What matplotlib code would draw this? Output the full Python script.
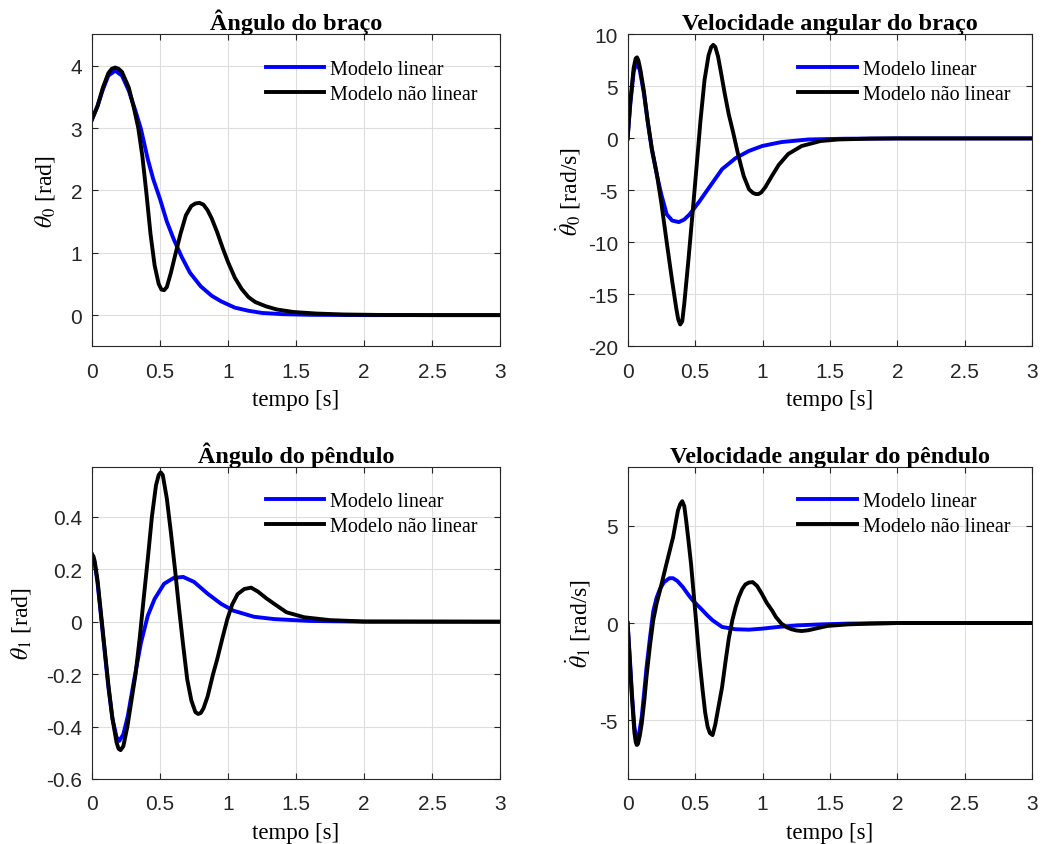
import matplotlib
matplotlib.use('Agg')
import matplotlib.pyplot as plt

# --- dados ---
# angulo do braco
t_ab_lin = [0, 0.04, 0.08, 0.12, 0.17, 0.22, 0.27, 0.32, 0.36, 0.41, 0.45, 0.50, 0.55, 0.60,
            0.66, 0.72, 0.80, 0.88, 0.95, 1.05, 1.15, 1.25, 1.40, 1.6, 2.0, 3.0]
ab_lin = [3.14, 3.35, 3.62, 3.84, 3.92, 3.84, 3.60, 3.27, 2.98, 2.50, 2.18, 1.86, 1.50, 1.22,
          0.93, 0.68, 0.46, 0.31, 0.22, 0.12, 0.07, 0.035, 0.015, 0.005, 0, 0]
t_ab_nl = [0, 0.04, 0.08, 0.12, 0.145, 0.17, 0.195, 0.22, 0.27, 0.31, 0.34, 0.37, 0.40, 0.43,
           0.46, 0.49, 0.51, 0.53, 0.55, 0.58, 0.61, 0.65, 0.69, 0.73, 0.76, 0.79, 0.82, 0.85,
           0.88, 0.92, 0.96, 1.00, 1.05, 1.10, 1.15, 1.20, 1.28, 1.36, 1.48, 1.65, 1.85, 2.1,
           2.5, 3.0]
ab_nl = [3.14, 3.35, 3.65, 3.88, 3.95, 3.97, 3.95, 3.90, 3.65, 3.30, 3.00, 2.55, 1.95, 1.30,
         0.80, 0.50, 0.41, 0.40, 0.45, 0.68, 0.95, 1.30, 1.60, 1.75, 1.79, 1.80, 1.77, 1.68,
         1.55, 1.33, 1.08, 0.85, 0.60, 0.42, 0.29, 0.21, 0.14, 0.09, 0.05, 0.025, 0.01, 0.003,
         0, 0]

# velocidade angular do braco
t_vb_lin = [0, 0.02, 0.045, 0.065, 0.09, 0.12, 0.15, 0.18, 0.215, 0.25, 0.29, 0.33, 0.38,
            0.42, 0.46, 0.53, 0.60, 0.70, 0.80, 0.90, 1.00, 1.14, 1.34, 1.6, 2.0, 3.0]
vb_lin = [0, 3.3, 6.4, 7.3, 6.6, 4.4, 1.5, -1.1, -3.4, -5.4, -7.3, -7.9, -8.05,
          -7.8, -7.3, -6.1, -4.8, -2.96, -1.9, -1.2, -0.72, -0.35, -0.1, -0.03, 0, 0]
t_vb_nl = [0, 0.02, 0.045, 0.06, 0.07, 0.08, 0.095, 0.12, 0.15, 0.18, 0.215, 0.25, 0.29, 0.33,
           0.36, 0.375, 0.39, 0.405, 0.42, 0.45, 0.48, 0.51, 0.54, 0.57, 0.60, 0.62, 0.635,
           0.65, 0.67, 0.69, 0.72, 0.75, 0.78, 0.82, 0.86, 0.90, 0.93, 0.95, 0.97, 0.99, 1.02,
           1.07, 1.12, 1.19, 1.29, 1.43, 1.56, 1.8, 2.0, 3.0]
vb_nl = [0, 3.5, 6.8, 7.7, 7.8, 7.5, 6.6, 4.6, 1.6, -1.0, -3.3, -6.2, -10.0, -13.7,
         -16.3, -17.4, -17.9, -17.6, -15.9, -11.8, -7.4, -2.9, 1.7, 5.6, 8.0, 8.8, 9.0,
         8.8, 7.9, 6.5, 4.3, 2.3, 0.7, -1.6, -3.6, -4.9, -5.25, -5.35, -5.35, -5.2, -4.7,
         -3.6, -2.55, -1.5, -0.73, -0.25, -0.1, -0.02, 0, 0]

# angulo do pendulo
t_ap_lin = [0, 0.02, 0.04, 0.06, 0.09, 0.12, 0.15, 0.18, 0.20, 0.23, 0.263, 0.31, 0.36,
            0.41, 0.46, 0.53, 0.60, 0.67, 0.75, 0.85, 0.95, 1.04, 1.19, 1.34, 1.6, 2.0, 3.0]
ap_lin = [0.257, 0.22, 0.15, 0.05, -0.10, -0.25, -0.37, -0.44, -0.455, -0.43, -0.36, -0.22, -0.08,
          0.023, 0.087, 0.145, 0.167, 0.171, 0.152, 0.107, 0.068, 0.042, 0.019, 0.01, 0.003, 0, 0]
t_ap_nl = [0, 0.01, 0.02, 0.04, 0.06, 0.09, 0.12, 0.15, 0.18, 0.195, 0.21, 0.23, 0.26, 0.29,
           0.32, 0.35, 0.38, 0.41, 0.44, 0.47, 0.49, 0.505, 0.52, 0.55, 0.58, 0.61, 0.64, 0.67,
           0.70, 0.73, 0.76, 0.78, 0.80, 0.82, 0.85, 0.89, 0.92, 0.96, 0.995, 1.03, 1.07, 1.12,
           1.17, 1.22, 1.28, 1.34, 1.43, 1.56, 1.75, 2.0, 3.0]
ap_nl = [0.257, 0.25, 0.23, 0.16, 0.06, -0.09, -0.24, -0.37, -0.46, -0.485, -0.49, -0.475,
         -0.40, -0.30, -0.20, -0.065, 0.09, 0.24, 0.40, 0.52, 0.56, 0.57, 0.56, 0.47, 0.34,
         0.20, 0.05, -0.09, -0.22, -0.30, -0.345, -0.352, -0.348, -0.33, -0.285, -0.20, -0.144,
         -0.06, 0.01, 0.065, 0.105, 0.125, 0.13, 0.115, 0.09, 0.068, 0.036, 0.017, 0.006,
         0.001, 0]

# velocidade angular do pendulo
t_vp_lin = [0, 0.015, 0.032, 0.05, 0.065, 0.085, 0.105, 0.125, 0.14, 0.165, 0.19, 0.215, 0.24,
            0.27, 0.31, 0.337, 0.37, 0.41, 0.45, 0.483, 0.52, 0.556, 0.59, 0.63, 0.70, 0.80,
            0.90, 0.995, 1.117, 1.26, 1.43, 1.63, 2.0, 3.0]
vp_lin = [0, -1.6, -3.6, -5.3, -6.0, -5.7, -4.8, -3.4, -2.3, -0.8, 0.6, 1.3, 1.75,
          2.1, 2.3, 2.3, 2.15, 1.84, 1.45, 1.16, 0.9, 0.65, 0.4, 0.14, -0.2, -0.32,
          -0.34, -0.29, -0.2, -0.12, -0.07, -0.03, 0, 0]
t_vp_nl = [0, 0.015, 0.032, 0.05, 0.06, 0.068, 0.077, 0.09, 0.105, 0.125, 0.14, 0.165, 0.19,
           0.215, 0.24, 0.288, 0.337, 0.373, 0.39, 0.405, 0.42, 0.434, 0.45, 0.47, 0.507,
           0.53, 0.556, 0.575, 0.593, 0.61, 0.63, 0.65, 0.678, 0.70, 0.727, 0.75, 0.776, 0.80,
           0.824, 0.85, 0.873, 0.90, 0.927, 0.96, 0.995, 1.03, 1.07, 1.10, 1.14, 1.18, 1.215,
           1.25, 1.29, 1.34, 1.39, 1.48, 1.63, 1.8, 2.0, 3.0]
vp_nl = [0, -1.8, -3.8, -5.6, -6.1, -6.26, -6.2, -5.8, -5.15, -3.9, -2.76, -1.2, 0.14,
         1.0, 1.67, 3.04, 4.4, 5.77, 6.1, 6.25, 6.0, 5.26, 4.3, 3.04, 0.14,
         -1.7, -3.45, -4.6, -5.32, -5.65, -5.75, -5.2, -4.13, -3.3, -1.91, -0.8, 0.14, 0.8,
         1.33, 1.75, 1.98, 2.08, 2.1, 1.9, 1.5, 1.05, 0.65, 0.3, -0.03, -0.22, -0.32,
         -0.38, -0.41, -0.37, -0.29, -0.15, -0.07, -0.03, 0, 0]

titles = ['Ângulo do braço', 'Velocidade angular do braço',
          'Ângulo do pêndulo', 'Velocidade angular do pêndulo']
ylabels = [r'$\theta_0$ [rad]', r'$\dot{\theta}_0$ [rad/s]',
           r'$\theta_1$ [rad]', r'$\dot{\theta}_1$ [rad/s]']
leg_labels = ['Modelo linear', 'Modelo não linear']

plt.rcParams['font.family'] = 'Liberation Serif'
plt.rcParams['mathtext.fontset'] = 'stix'

fig = plt.figure(figsize=(10.46, 8.45), dpi=100)
rects = [[0.088, 0.589, 0.390, 0.369], [0.600, 0.589, 0.387, 0.369],
         [0.088, 0.077, 0.390, 0.369], [0.600, 0.077, 0.387, 0.369]]
series = [(t_ab_lin, ab_lin, t_ab_nl, ab_nl), (t_vb_lin, vb_lin, t_vb_nl, vb_nl),
          (t_ap_lin, ap_lin, t_ap_nl, ap_nl), (t_vp_lin, vp_lin, t_vp_nl, vp_nl)]
ylims = [(-0.5, 4.5), (-20, 10), (-0.6, 0.59), (-8, 8)]
yticks = [[0, 1, 2, 3, 4], [-20, -15, -10, -5, 0, 5, 10],
          [-0.6, -0.4, -0.2, 0, 0.2, 0.4], [-5, 0, 5]]
ytlabels = [['0', '1', '2', '3', '4'], ['-20', '-15', '-10', '-5', '0', '5', '10'],
            ['-0.6', '-0.4', '-0.2', '0', '0.2', '0.4'], ['-5', '0', '5']]
ylabel_x = [-0.086, -0.111, -0.145, -0.086]
xticks = [0, 0.5, 1, 1.5, 2, 2.5, 3]
xtlabels = ['0', '0.5', '1', '1.5', '2', '2.5', '3']

for i in range(4):
    ax = fig.add_axes(rects[i])
    tl, yl, tn, yn = series[i]
    ax.plot(tl, yl, color='#0000ff', lw=2.8, label=leg_labels[0])
    ax.plot(tn, yn, color='black', lw=2.8, label=leg_labels[1])
    ax.set_xlim(0, 3)
    ax.set_ylim(*ylims[i])
    ax.set_xticks(xticks)
    ax.set_xticklabels(xtlabels, family='Liberation Sans', fontsize=15, color='#262626')
    ax.set_yticks(yticks[i])
    ax.set_yticklabels(ytlabels[i], family='Liberation Sans', fontsize=15, color='#262626')
    ax.tick_params(direction='in', top=True, right=True, length=4, width=0.8,
                   color='#262626', pad=7)
    ax.tick_params(axis='x', pad=11)
    ax.grid(True, color='#dedede', lw=0.8)
    ax.set_axisbelow(True)
    for s in ax.spines.values():
        s.set_color('#262626')
        s.set_linewidth(0.8)
    ax.set_title(titles[i], fontsize=17.5, fontweight='bold', pad=4)
    ax.set_xlabel('tempo [s]', fontsize=16.5, labelpad=6)
    ax.set_ylabel(ylabels[i], fontsize=17)
    ax.yaxis.set_label_coords(ylabel_x[i], 0.5)
    ax.legend(loc='upper right', bbox_to_anchor=(0.98, 0.965), frameon=False,
              fontsize=14.5, handlelength=2.9, handletextpad=0.3, labelspacing=0.3,
              borderpad=0.2)

fig.savefig('out.png', dpi=100)
